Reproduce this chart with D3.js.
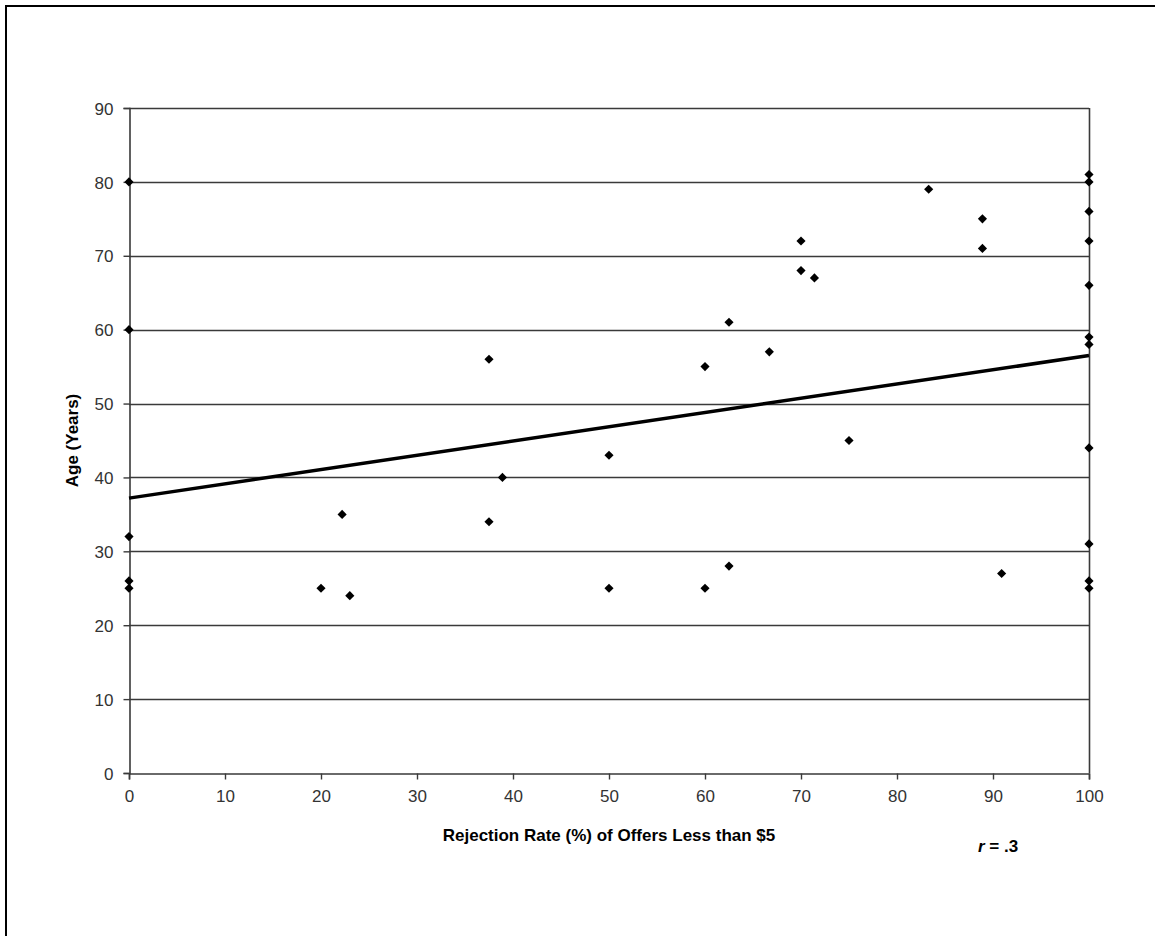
<!DOCTYPE html>
<html>
<head>
<meta charset="utf-8">
<script src="https://cdn.jsdelivr.net/npm/d3@7"></script>
<style>
  body { margin: 0; background: #fff; }
  svg { display: block; }
  text { font-family: "Liberation Sans", Arial, sans-serif; }
</style>
</head>
<body>
<div id="chart"></div>
<script>
// rejection rate (%) vs age
const rejectionRate = [0, 0, 0, 0, 0, 20, 22.2, 23, 37.5, 37.5, 38.9, 50, 50, 60, 60, 62.5, 62.5, 66.7, 70, 70, 71.4, 75, 83.3, 88.9, 88.9, 90.9,
    100, 100, 100, 100, 100, 100, 100, 100, 100, 100, 100];
const age = [80, 60, 32, 26, 25, 25, 35, 24, 56, 34, 40, 43, 25, 55, 25, 61, 28, 57, 72, 68, 67, 45, 79, 75, 71, 27,
    81, 80, 76, 72, 66, 59, 58, 44, 31, 26, 25];

// fitted trend line, read at both ends
const trendX = [0, 100];
const trendY = [37.2, 56.5];

const xTicks = [0, 10, 20, 30, 40, 50, 60, 70, 80, 90, 100];
const yTicks = [0, 10, 20, 30, 40, 50, 60, 70, 80, 90];

const width = 1155;
const height = 936;
const margin = { top: 108, right: 66, bottom: 163, left: 129 };

const svg = d3.select('#chart')
    .append('svg')
    .attr('width', width)
    .attr('height', height);

// outer chart frame (right/bottom edges fall outside the picture)
svg.append('rect')
    .attr('x', 6).attr('y', 6)
    .attr('width', width + 20).attr('height', height + 20)
    .attr('fill', 'none')
    .attr('stroke', '#000')
    .attr('stroke-width', 2);

const x = d3.scaleLinear().domain([0, 100]).range([margin.left, width - margin.right]);
const y = d3.scaleLinear().domain([0, 90]).range([height - margin.bottom, margin.top]);

// gridlines
svg.append('g')
    .selectAll('line')
    .data(yTicks.slice(1))
    .join('line')
    .attr('x1', x(0)).attr('x2', x(100))
    .attr('y1', d => Math.round(y(d)) + 0.5)
    .attr('y2', d => Math.round(y(d)) + 0.5)
    .attr('stroke', '#3a3a3a')
    .attr('stroke-width', 1.6);

// right edge of plot area
svg.append('line')
    .attr('x1', Math.round(x(100)) + 0.5).attr('x2', Math.round(x(100)) + 0.5)
    .attr('y1', y(90)).attr('y2', y(0))
    .attr('stroke', '#3a3a3a')
    .attr('stroke-width', 1.6);

const xAxis = svg.append('g')
    .attr('transform', `translate(0,${Math.round(y(0)) + 0.5})`)
    .call(d3.axisBottom(x).tickValues(xTicks).tickSize(6).tickPadding(10).tickFormat(d3.format('d')));

const yAxis = svg.append('g')
    .attr('transform', `translate(${Math.round(x(0)) + 0.5},0)`)
    .call(d3.axisLeft(y).tickValues(yTicks).tickSize(6).tickPadding(10).tickFormat(d3.format('d')));

[xAxis, yAxis].forEach(a => {
    a.select('.domain').attr('stroke', '#3a3a3a').attr('stroke-width', 1.6);
    a.selectAll('.tick line').attr('stroke', '#3a3a3a').attr('stroke-width', 1.4);
    a.selectAll('.tick text')
        .style('font-size', '17px')
        .style('font-family', '"Liberation Sans", Arial, sans-serif')
        .attr('fill', '#333');
});
yAxis.selectAll('.tick text').attr('dy', '0.36em');

// trend line
svg.append('line')
    .attr('x1', x(trendX[0])).attr('y1', y(trendY[0]))
    .attr('x2', x(trendX[1])).attr('y2', y(trendY[1]))
    .attr('stroke', '#000')
    .attr('stroke-width', 3.5);

// diamond markers
const diamond = d3.symbol().type(d3.symbolSquare).size(42);
svg.append('g')
    .selectAll('path')
    .data(rejectionRate.map((r, i) => [r, age[i]]))
    .join('path')
    .attr('d', diamond)
    .attr('transform', d => `translate(${x(d[0])},${y(d[1])}) rotate(45)`)
    .attr('fill', '#000');

// axis titles
svg.append('text')
    .attr('x', (x(0) + x(100)) / 2)
    .attr('y', 841)
    .attr('text-anchor', 'middle')
    .style('font-size', '17px')
    .style('font-weight', 'bold')
    .text('Rejection Rate (%) of Offers Less than $5');

svg.append('text')
    .attr('transform', `translate(78,${(y(0) + y(90)) / 2}) rotate(-90)`)
    .attr('text-anchor', 'middle')
    .style('font-size', '17px')
    .style('font-weight', 'bold')
    .text('Age (Years)');

// correlation note
const note = svg.append('text')
    .attr('x', 978)
    .attr('y', 852)
    .style('font-size', '17px')
    .style('font-weight', 'bold');
note.append('tspan').style('font-style', 'italic').text('r');
note.append('tspan').text(' = .3');
</script>
</body>
</html>
